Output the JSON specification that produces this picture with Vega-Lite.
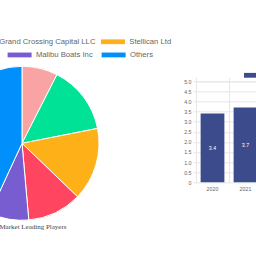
{
  "$schema": "https://vega.github.io/schema/vega-lite/v6.json",
  "autosize": {"type": "pad"},
  "padding": {"left": -107, "top": 29.3, "right": 0, "bottom": 0},
  "background": "white",
  "config": {"view": {"stroke": null}, "font": "Liberation Sans"},
  "bounds": "flush",
  "spacing": 97,
  "resolve": {"scale": {"color": "independent"}, "legend": {"color": "independent"}},
  "hconcat": [
    {
      "width": 154,
      "height": 124,
      "title": {"text": "Marine Market Leading Players", "orient": "bottom", "anchor": "middle", "font": "Liberation Serif", "fontSize": 7, "fontWeight": "normal", "color": "#444444", "offset": 1},
      "data": {"values": [
        {"company": "Correct Craft", "share": 7.5},
        {"company": "Grand Crossing Capital LLC", "share": 14.4},
        {"company": "Stellican Ltd", "share": 15.3},
        {"company": "Brunswick Corporation", "share": 11.4},
        {"company": "Malibu Boats Inc", "share": 8.3},
        {"company": "Others", "share": 43.1}
      ]},
      "transform": [{"window": [{"op": "row_number", "as": "idx"}]}],
      "layer": [
        {
          "mark": {"type": "arc", "outerRadius": 77, "stroke": "#ffffff", "strokeWidth": 1},
          "encoding": {
            "theta": {"field": "share", "type": "quantitative", "stack": true},
            "order": {"field": "idx", "type": "quantitative", "sort": "ascending"},
            "color": {
              "field": "company",
              "type": "nominal",
              "scale": {
                "domain": ["Correct Craft", "Grand Crossing Capital LLC", "Stellican Ltd", "Brunswick Corporation", "Malibu Boats Inc", "Others"],
                "range": ["#F9A3A4", "#00E396", "#FEB019", "#FF4560", "#775DD0", "#008FFB"]
              },
              "legend": {
                "orient": "none",
                "legendX": -52,
                "legendY": -51.7,
                "direction": "horizontal",
                "values": ["Correct Craft", "Grand Crossing Capital LLC", "Stellican Ltd"],
                "title": null,
                "symbolType": "M-1,-0.2H1V0.2H-1Z",
                "symbolSize": 576,
                "symbolStrokeWidth": 0,
                "symbolOpacity": 1,
                "labelFontSize": 7.7,
                "labelColor": "#666666",
                "labelOffset": 4.3,
                "labelLimit": 0,
                "columnPadding": 5
              }
            }
          }
        },
        {
          "mark": {"type": "arc", "outerRadius": 77, "stroke": "#ffffff", "strokeWidth": 1},
          "encoding": {
            "theta": {"field": "share", "type": "quantitative", "stack": true},
            "order": {"field": "idx", "type": "quantitative", "sort": "ascending"},
            "color": {
              "field": "company",
              "type": "nominal",
              "scale": {
                "domain": ["Correct Craft", "Grand Crossing Capital LLC", "Stellican Ltd", "Brunswick Corporation", "Malibu Boats Inc", "Others"],
                "range": ["#F9A3A4", "#00E396", "#FEB019", "#FF4560", "#775DD0", "#008FFB"]
              },
              "legend": {
                "orient": "none",
                "legendX": -51.4,
                "legendY": -38.5,
                "direction": "horizontal",
                "values": ["Brunswick Corporation", "Malibu Boats Inc", "Others"],
                "title": null,
                "symbolType": "M-1,-0.2H1V0.2H-1Z",
                "symbolSize": 576,
                "symbolStrokeWidth": 0,
                "symbolOpacity": 1,
                "labelFontSize": 7.7,
                "labelColor": "#666666",
                "labelOffset": 4.3,
                "labelLimit": 0,
                "columnPadding": 8
              }
            }
          }
        }
      ],
      "resolve": {"scale": {"color": "independent"}, "legend": {"color": "independent"}}
    },
    {
      "width": 66,
      "height": 101,
      "data": {"values": [
        {"year": "2020", "value": 3.4, "series": "Market Size (USD Billion)"},
        {"year": "2021", "value": 3.7, "series": "Market Size (USD Billion)"}
      ]},
      "layer": [
        {
          "mark": {"type": "bar", "width": {"band": 0.72}},
          "encoding": {
            "x": {"field": "year", "type": "ordinal", "scale": {"paddingInner": 0, "paddingOuter": 0},
              "axis": {"title": null, "ticks": false, "domain": false, "grid": false, "labelAngle": 0, "labelFontSize": 5.3, "labelColor": "#666666", "labelPadding": 4}},
            "y": {"field": "value", "type": "quantitative", "scale": {"domain": [0, 5]},
              "axis": {"title": null, "values": [0, 0.5, 1, 1.5, 2, 2.5, 3, 3.5, 4, 4.5, 5], "labelExpr": "datum.value == 0 ? '0' : format(datum.value, '.1f')", "labelFontSize": 5.3, "labelColor": "#666666", "labelPadding": 2, "tickSize": 3, "tickColor": "#e6e6e6", "gridColor": "#e6e6e6", "domainColor": "#e6e6e6", "grid": true}},
            "color": {"field": "series", "type": "nominal", "scale": {"range": ["#3b4b8c"]},
              "legend": {"orient": "none", "legendX": 48, "legendY": -18, "title": null, "direction": "horizontal", "symbolType": "M-1,-0.2H1V0.2H-1Z", "symbolSize": 576, "symbolStrokeWidth": 0, "symbolOpacity": 1, "labelFontSize": 7.7, "labelColor": "#666666", "labelOffset": 4.3}}
          }
        },
        {
          "mark": {"type": "text", "color": "#ffffff", "fontSize": 5.3, "baseline": "middle"},
          "encoding": {
            "x": {"field": "year", "type": "ordinal",
              "axis": {"title": null, "bandPosition": 0, "grid": true, "gridColor": "#e6e6e6", "labels": false, "ticks": true, "tickSize": 4, "tickColor": "#e6e6e6", "domain": true, "domainColor": "#e6e6e6"}},
            "y": {"field": "value", "type": "quantitative", "scale": {"domain": [0, 10]}, "axis": null},
            "text": {"field": "value", "type": "quantitative", "format": ".1f"}
          }
        }
      ],
      "resolve": {"scale": {"y": "independent"}, "axis": {"x": "independent"}}
    }
  ]
}
